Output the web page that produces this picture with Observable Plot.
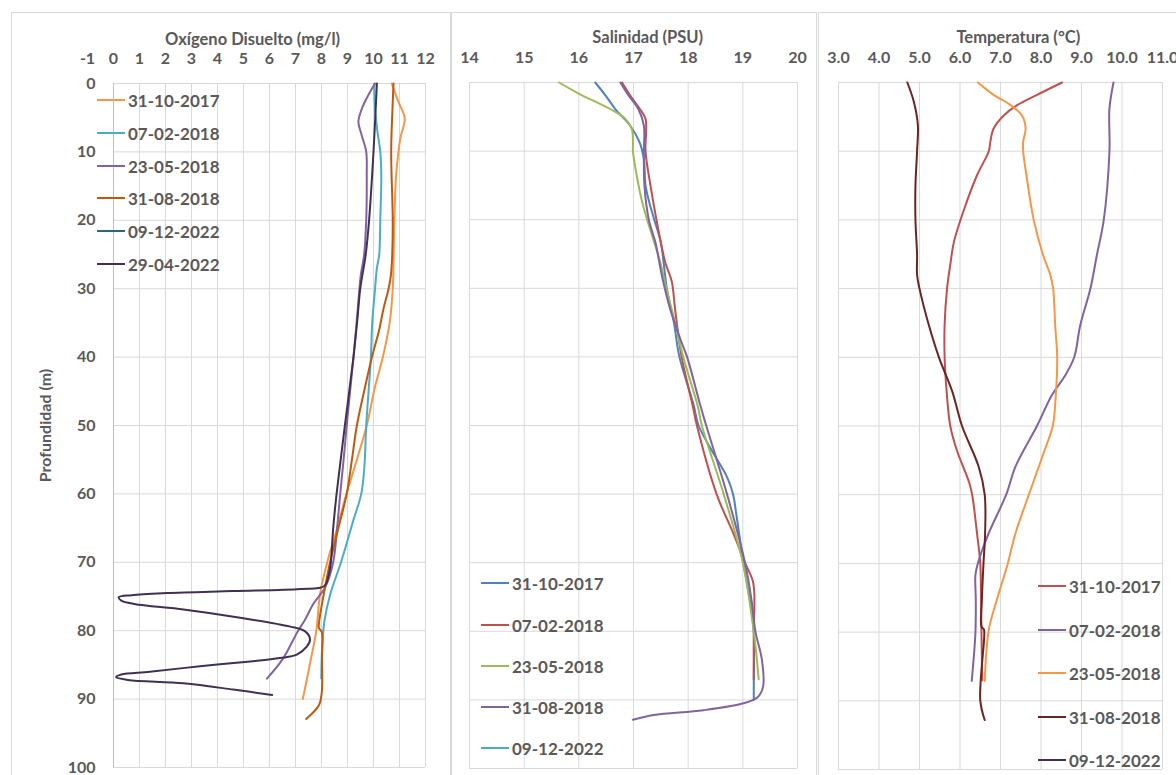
<!DOCTYPE html>
<html><head><meta charset="utf-8">
<script src="https://cdn.jsdelivr.net/npm/d3@7"></script>
<script src="https://cdn.jsdelivr.net/npm/@observablehq/plot@0.6"></script>
<style>
body{margin:0;background:#fff;}
#page{position:relative;width:1176px;height:775px;overflow:hidden;background:#fff;font-family:Lato,sans-serif;}
.panel{position:absolute;top:12px;height:800px;border:1px solid #d9d9d9;box-sizing:border-box;}
.chart{position:absolute;top:0;}
.chart svg{overflow:visible;max-width:none;}
.item{position:absolute;display:flex;align-items:center;white-space:nowrap;font:700 17px Lato,sans-serif;color:#595959;height:20px;}
.sw{width:28px;height:2px;margin-right:3px;}
</style></head>
<body><div id="page">
<div class="panel" style="left:11px;width:440px"></div>
<div class="panel" style="left:451px;width:366px"></div>
<div class="panel" style="left:818px;width:400px"></div>
</div>
<script>
// ---------- categories ----------
const oxDates = ["31-10-2017","07-02-2018","23-05-2018","31-08-2018","09-12-2022","29-04-2022"];
const oxColors = ["#f79646","#4bacc6","#8064a2","#c0590e","#2b6776","#403152"];
const salDates = ["31-10-2017","07-02-2018","23-05-2018","31-08-2018","09-12-2022"];
const salColors = ["#4f81bd","#c0504d","#9bbb59","#8064a2","#4bacc6"];
const tempDates = ["31-10-2017","07-02-2018","23-05-2018","31-08-2018","09-12-2022"];
const tempColors = ["#c0504d","#8064a2","#f79646","#6b2424","#403152"];

// ---------- tick labels ----------
const depthTicks = [0,10,20,30,40,50,60,70,80,90,100];
const oxTicks = [-1,0,1,2,3,4,5,6,7,8,9,10,11,12];
const oxGrid = [0,1,2,3,4,5,6,7,8,9,10,11,12];
const salTicks = [14,15,16,17,18,19,20];
const tempTicks = [3,4,5,6,7,8,9,10,11];

// ---------- series: [depth (m), value] ----------
// Oxígeno disuelto (mg/l)
const ox_31102017 = [[0,10.7],[2.7,10.96],[5.1,11.2],[8,11.03],[10,10.96],[13.4,10.87],[20,10.8],[30,10.74],[35,10.62],[40,10.36],[44.3,10.06],[50,9.74],[55,9.36],[60,8.96],[65.3,8.58],[70,8.22],[74.5,7.95],[80,7.8],[84.2,7.59],[90,7.28]];
const ox_07022018 = [[0,10.03],[3.7,10.06],[7,10.15],[10,10.26],[13.4,10.3],[20,10.26],[25,10.22],[27,10.13],[30,10.06],[35,9.95],[40,9.9],[50,9.72],[56,9.65],[60,9.53],[63.8,9.23],[70,8.75],[74.5,8.35],[78.4,8.12],[82,8.03],[87,7.99]];
const ox_23052018 = [[0,10.06],[1.7,9.8],[3.7,9.55],[5.6,9.42],[7.6,9.55],[10,9.72],[13.4,9.74],[20,9.72],[25,9.64],[28,9.51],[30,9.46],[34.5,9.36],[40,9.23],[50,8.97],[55,8.85],[60,8.72],[65,8.6],[70,8.45],[73.6,8.15],[76,7.7],[78.5,7.35],[80,7.1],[84.2,6.5],[87,5.9]];
const ox_31082018 = [[0,10.77],[3.7,10.73],[10,10.68],[20,10.74],[25,10.72],[28,10.67],[30,10.58],[33,10.38],[36,10.22],[40,9.94],[44.3,9.68],[50,9.36],[55,9.17],[60,8.97],[65,8.65],[70,8.33],[73.6,8.14],[78.4,7.92],[79.6,7.9],[80.2,8.01],[84,8.02],[89,8.01],[90.9,7.9],[92.9,7.41]];
const ox_09122022 = [];
const ox_29042022 = [[0,10.13],[10,10.0],[20,9.83],[25,9.7],[30,9.49],[34.5,9.38],[40,9.23],[50,8.9],[60,8.58],[65,8.45],[70,8.36],[72,8.27],[73.5,8.1],[73.9,7.2],[74.2,4.6],[74.5,2.05],[74.8,0.7],[75.1,0.2],[75.6,0.3],[76.1,0.8],[76.9,2.69],[78.1,4.87],[79.4,6.8],[80.1,7.37],[81.3,7.56],[82.3,7.44],[83.5,7.05],[84,6.4],[84.5,5.26],[85.2,3.33],[86,1.4],[86.4,0.3],[86.8,0.1],[87.2,0.55],[87.7,2.69],[88.6,4.6],[89.4,6.1]];

// Salinidad (PSU)
const sal_31102017 = [[0,16.3],[1.9,16.49],[3.9,16.67],[6.3,16.94],[8.7,17.11],[11.2,17.19],[15,17.22],[17.5,17.29],[20,17.38],[23.3,17.5],[26.2,17.55],[30,17.61],[35,17.74],[40,17.84],[47,18.1],[50,18.19],[53.6,18.43],[57.5,18.71],[60,18.82],[62.9,18.88],[70,19.01],[75.5,19.13],[80,19.2],[87,19.2],[90,19.2]];
const sal_07022018 = [[0,16.79],[1.9,16.94],[3.9,17.12],[5.3,17.22],[7.3,17.23],[10,17.22],[15,17.31],[20,17.42],[26.2,17.58],[29,17.7],[33,17.76],[40,17.88],[47,18.08],[50,18.16],[60,18.52],[65.8,18.83],[70,19.04],[72.6,19.18],[74.5,19.21],[80,19.2],[87,19.2]];
const sal_23052018 = [[0,15.64],[1.5,15.97],[3.9,16.58],[5.3,16.85],[6.8,16.97],[8.7,16.99],[10,16.99],[13.6,17.06],[17.5,17.16],[20,17.25],[26.2,17.49],[30,17.6],[35,17.76],[40,17.91],[47,18.17],[50,18.25],[60,18.65],[70,19.0],[80,19.2],[87,19.29]];
const sal_31082018 = [[0,16.76],[1.9,16.91],[3.9,17.09],[6.3,17.19],[10,17.19],[15,17.2],[20,17.28],[23.3,17.4],[28.2,17.52],[33,17.67],[37.9,17.88],[40,17.98],[47,18.22],[50,18.33],[60,18.71],[70,19.04],[75.5,19.16],[80,19.23],[84.2,19.35],[88.1,19.37],[89.6,19.27],[90.5,19.01],[91.5,18.28],[92.2,17.37],[92.9,16.99]];
const sal_09122022 = [];

// Temperatura (°C)
const temp_31102017 = [[0,8.52],[1.8,7.9],[3.3,7.41],[4.8,7.08],[6.7,6.83],[8.6,6.75],[10,6.71],[13.5,6.42],[18.3,6.11],[23.2,5.85],[26.1,5.77],[30,5.68],[35.3,5.62],[40,5.62],[45,5.67],[50,5.76],[53.5,5.92],[58.3,6.23],[60,6.3],[65.6,6.42],[70,6.5],[75.3,6.52],[80.2,6.53],[87,6.55]];
const temp_07022018 = [[0,9.79],[3.8,9.69],[10,9.69],[20,9.55],[25.1,9.38],[30,9.22],[35.3,8.97],[40,8.82],[42.6,8.6],[45.5,8.27],[50,7.9],[55.9,7.37],[60,7.14],[65.6,6.71],[70,6.44],[71.7,6.38],[75.3,6.39],[80.2,6.38],[87.1,6.29]];
const temp_23052018 = [[0,6.44],[1.8,6.83],[3.3,7.25],[4.8,7.53],[6.7,7.62],[8.6,7.56],[10,7.56],[13.5,7.64],[20,7.82],[25.1,8.05],[28,8.23],[30,8.3],[35.3,8.35],[40,8.4],[46,8.36],[50,8.29],[53.5,8.09],[60,7.7],[65.6,7.37],[70,7.18],[75.3,6.91],[79.7,6.71],[87.1,6.61]];
const temp_31082018 = [[0,4.7],[2.8,4.86],[6.2,4.96],[10,4.94],[15,4.9],[20,4.9],[25.1,4.94],[28,4.94],[30,5.0],[35.3,5.23],[40,5.48],[45,5.81],[50,6.05],[55.9,6.46],[60,6.61],[65.6,6.62],[70,6.58],[75.3,6.54],[79.2,6.53],[79.6,6.59],[80.4,6.6],[89.9,6.5],[92.8,6.61]];
const temp_09122022 = [];

// ---------- build ----------
function rows(dates, arrays) {
  const out = [];
  dates.forEach((date, i) => arrays[i].forEach(([d, v]) => out.push({date, d, v})));
  return out;
}
const page = document.getElementById("page");

function panel(o) {
  const plot = Plot.plot({
    width: o.width, height: 775,
    marginLeft: o.mL, marginRight: o.mR, marginTop: o.mT, marginBottom: o.mB,
    style: {background: "transparent", color: "#595959", fontFamily: "Lato, sans-serif", fontSize: "16px", fontWeight: "bold", overflow: "visible"},
    x: {domain: o.xDomain, axis: null},
    y: {domain: [0, 100], reverse: true, axis: null},
    color: {domain: o.dates, range: o.colors},
    marks: [
      Plot.ruleY(depthTicks, {x1: o.grid[0], x2: o.grid[o.grid.length - 1], stroke: "#d9d9d9", strokeWidth: 1}),
      Plot.ruleX(o.grid, {y1: 0, y2: 100, stroke: (d) => (d === o.axisAt ? "#bfbfbf" : "#d9d9d9"), strokeWidth: 1}),
      Plot.axisX({anchor: "top", ticks: o.ticks, tickFormat: o.fmt, tickSize: 0, tickPadding: 20, label: null, fontSize: 16}),
      o.yAxis ? Plot.axisY({ticks: depthTicks, tickFormat: (d) => String(d), tickSize: 0, tickPadding: 0, dx: 8, label: null, fontSize: 16}) : null,
      o.yAxis ? Plot.text(["Profundidad (m)"], {x: o.yLabelX, y: 50, text: (d) => d, rotate: -90, fontSize: 16, fill: "#595959"}) : null,
      Plot.line(rows(o.dates, o.data), {x: "v", y: "d", z: "date", stroke: "date", strokeWidth: 2, curve: "catmull-rom"}),
      Plot.text([o.title], {x: o.titleX, y: o.titleY, text: (d) => d, lineAnchor: "bottom", fontSize: 16.5, fill: "#595959"})
    ]
  });
  const div = document.createElement("div");
  div.className = "chart";
  div.style.left = o.left + "px";
  div.appendChild(plot);
  page.appendChild(div);
}

function legend(dates, colors, left, ys) {
  dates.forEach((d, i) => {
    const it = document.createElement("div");
    it.className = "item";
    it.style.left = left + "px";
    it.style.top = (ys[i] - 10) + "px";
    it.innerHTML = `<span class="sw" style="background:${colors[i]}"></span><span>${d}</span>`;
    page.appendChild(it);
  });
}

panel({left: 12, width: 438, mL: 75, mR: 25, mT: 83, mB: 8,
  xDomain: [-1, 12], ticks: oxTicks, grid: oxGrid, axisAt: 0, fmt: (d) => String(d),
  dates: oxDates, colors: oxColors,
  data: [ox_31102017, ox_07022018, ox_23052018, ox_31082018, ox_09122022, ox_29042022],
  title: "Oxígeno Disuelto (mg/l)", titleX: 5.35, titleY: -5.6, yAxis: true, yLabelX: -2.62});

panel({left: 452, width: 364, mL: 17, mR: 19, mT: 82, mB: 7,
  xDomain: [14, 20], ticks: salTicks, grid: salTicks, axisAt: null, fmt: (d) => String(d),
  dates: salDates, colors: salColors,
  data: [sal_31102017, sal_07022018, sal_23052018, sal_31082018, sal_09122022],
  title: "Salinidad (PSU)", titleX: 17.26, titleY: -5.75, yAxis: false});

panel({left: 819, width: 357, mL: 19, mR: 14, mT: 82, mB: 6,
  xDomain: [3, 11], ticks: tempTicks, grid: tempTicks, axisAt: null, fmt: (d) => d.toFixed(1),
  dates: tempDates, colors: tempColors,
  data: [temp_31102017, temp_07022018, temp_23052018, temp_31082018, temp_09122022],
  title: "Temperatura (°C)", titleX: 7.44, titleY: -5.7, yAxis: false});

legend(oxDates, oxColors, 97, [100, 133, 166, 198, 231, 264]);
legend(salDates, salColors, 481, [583, 625, 666, 707, 748]);
legend(tempDates, tempColors, 1038, [586, 630, 673, 717, 760]);
</script>
</body></html>
